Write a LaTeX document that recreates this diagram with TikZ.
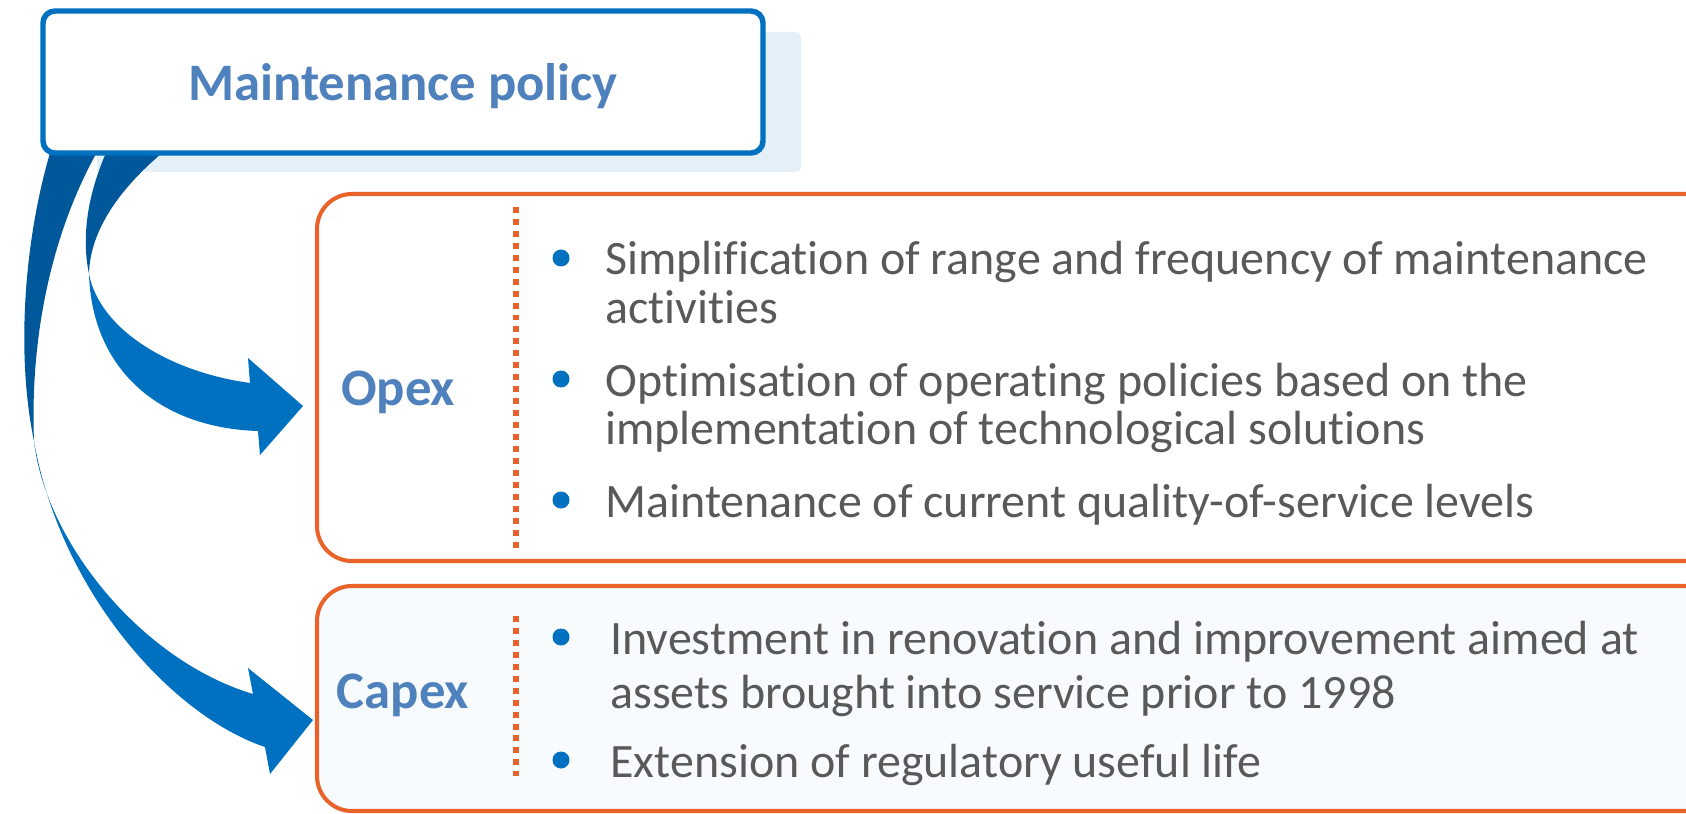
\documentclass[tikz,border=0pt]{standalone}
\usepackage{fontspec}
\setmainfont{Carlito}[Ligatures={NoCommon}]
\definecolor{polblue}{HTML}{0070C0}
\definecolor{poldark}{HTML}{00589A}
\definecolor{polhead}{HTML}{4F81BD}
\definecolor{polgray}{HTML}{595959}
\definecolor{polorange}{HTML}{E8622A}
\definecolor{polshade}{HTML}{E3F0F9}
\definecolor{polpale}{HTML}{F8FBFE}
\begin{document}
\begin{tikzpicture}[x=.02cm,y=-.02cm,
  hd/.style={font=\bfseries\fontsize{30}{30}\selectfont,text=polhead,inner sep=0,anchor=base},
  ln/.style={font=\fontsize{27.3}{27.3}\selectfont,text=polgray,anchor=base west,inner sep=0},
  frame/.style={draw=polorange,line width=2.3pt,rounded corners=.7cm},
  sep/.style={draw=polorange,line width=3.4pt,dash pattern=on 3.4pt off 3.4pt},
  dot/.style={circle,fill=polblue,inner sep=0,minimum size=.34cm}]
\useasboundingbox (0,0) rectangle (1686,814);
\clip (0,0) rectangle (1686,814);
\fill[white] (0,0) rectangle (1686,814);
% frames
\draw[frame,fill=white] (317,194) rectangle (1720,561);
\draw[frame,fill=polpale] (317,586) rectangle (1720,811);
\draw[sep] (516,207) -- (516,548);
\draw[sep] (516,616) -- (516,776);
% title box shadow
\fill[polshade,rounded corners=.1cm] (97,32) rectangle (801,172);
% curved arrows
\fill[poldark] (112,140) .. controls (85,195) and (82,240) .. (89,274) .. controls (90,230) and (120,185) .. (178,140) -- cycle;
\fill[polblue] (89,274) .. controls (92,370) and (160,428) .. (258,431) -- (260,455) -- (303,406) -- (248,358) -- (250,383) .. controls (170,372) and (100,330) .. (89,274) -- cycle;
\fill[poldark] (54,140) .. controls (25,230) and (15,350) .. (34,441) .. controls (30,340) and (50,230) .. (104,140) -- cycle;
\fill[polblue] (34,441) .. controls (60,590) and (170,715) .. (265,747) -- (270,774) -- (313,720) -- (248,668) -- (253,694) .. controls (140,660) and (45,540) .. (34,441) -- cycle;
% title box
\draw[polblue,line width=3.1pt,fill=white,rounded corners=.24cm] (43,11) rectangle (763,153);
\node[hd] (pol) at (403,101) {Maintenance policy};
\node[hd] (opex) at (398,405) {Opex};
\node[hd] (capex) at (403,708) {Capex};
% items
\foreach \n/\x/\y/\t in {o1/605/275/Simplification of range and frequency of maintenance,
  o2/605/323/activities, o3/605/396/Optimisation of operating policies based on the,
  o4/605/444/implementation of technological solutions,
  o5/605/517/Maintenance of current quality-of-service levels,
  c1/610/654/Investment in renovation and improvement aimed at,
  c2/610/708/assets brought into service prior to 1998,
  c3/610/777/Extension of regulatory useful life}
  \node[ln] (\n) at (\x,\y) {\t};
\foreach \n/\y in {b1/258, b2/379, b3/500, b4/637, b5/760}
  \node[dot] (\n) at (561,\y) {};
\end{tikzpicture}
\end{document}
